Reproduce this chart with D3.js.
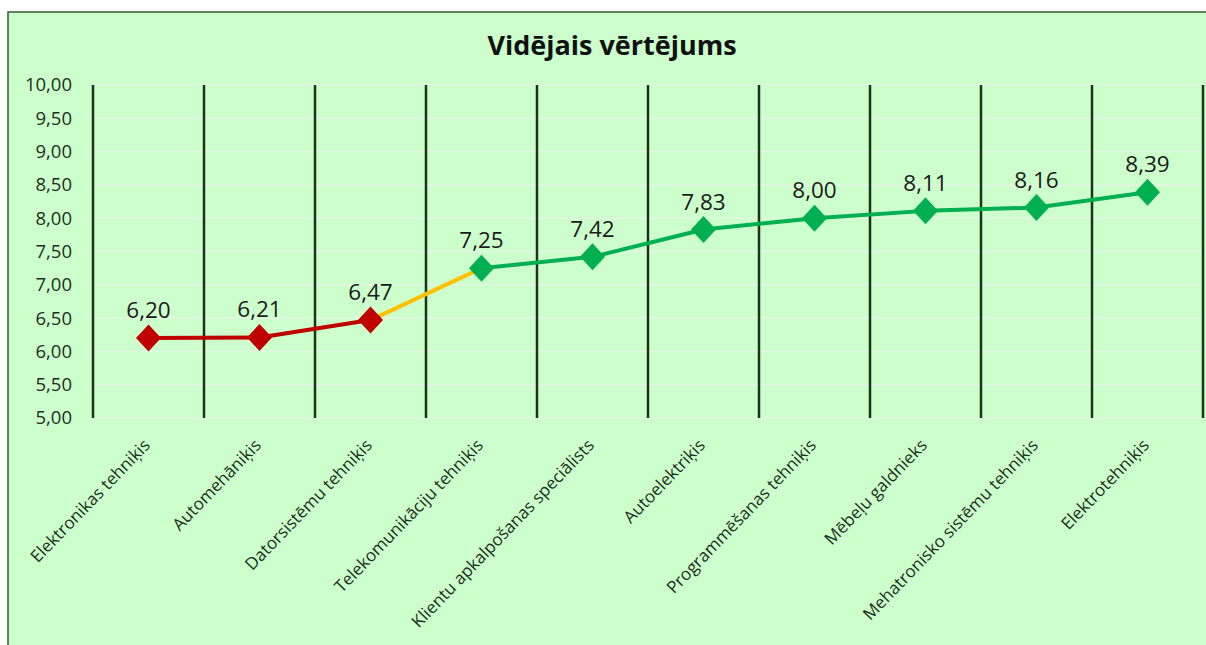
<!DOCTYPE html>
<meta charset="utf-8">
<script src="https://cdn.jsdelivr.net/npm/d3@7"></script>
<style>
body { margin: 0; background: #fff; }
text { font-family: "Open Sans", Lato, sans-serif; }
</style>
<body>
<script>

var categories = ["Elektronikas tehniķis", "Automehāniķis", "Datorsistēmu tehniķis",
  "Telekomunikāciju tehniķis", "Klientu apkalpošanas speciālists", "Autoelektriķis",
  "Programmēšanas tehniķis", "Mēbeļu galdnieks", "Mehatronisko sistēmu tehniķis", "Elektrotehniķis"];
var values = [6.20, 6.21, 6.47, 7.25, 7.42, 7.83, 8.00, 8.11, 8.16, 8.39];
var pointColors = ["#c00000", "#c00000", "#c00000", "#00b050", "#00b050",
  "#00b050", "#00b050", "#00b050", "#00b050", "#00b050"];
var segmentColors = ["#c00000", "#c00000", "#ffc000", "#00b050", "#00b050",
  "#00b050", "#00b050", "#00b050", "#00b050"];
var yTicks = [5, 5.5, 6, 6.5, 7, 7.5, 8, 8.5, 9, 9.5, 10];
var title = "Vidējais vērtējums";

var width = 1206, height = 645;
var plot = {left: 93, right: 1203, top: 85, bottom: 418};

var svg = d3.select("body").append("svg")
    .attr("width", width)
    .attr("height", height);

// chart background + border
svg.append("rect")
    .attr("x", 8).attr("y", 12)
    .attr("width", width + 20).attr("height", height)
    .attr("fill", "#ccffcc")
    .attr("stroke", "#2f5f2f")
    .attr("stroke-width", 1.5);

var x = d3.scaleBand().domain(categories).range([plot.left, plot.right]);
var y = d3.scaleLinear().domain([5, 10]).range([plot.bottom, plot.top]);
var fmt = function(v) { return d3.format(".2f")(v).replace(".", ","); };

// horizontal gridlines
svg.append("g")
  .selectAll("line")
  .data(yTicks)
  .enter().append("line")
    .attr("x1", plot.left).attr("x2", plot.right)
    .attr("y1", function(d) { return y(d); })
    .attr("y2", function(d) { return y(d); })
    .attr("stroke", "#e2f4e2")
    .attr("stroke-width", 1.5);

// vertical dividers
svg.append("g")
  .selectAll("line")
  .data(categories)
  .enter().append("line")
    .attr("x1", function(d) { return x(d); })
    .attr("x2", function(d) { return x(d); })
    .attr("y1", plot.top).attr("y2", plot.bottom)
    .attr("stroke", "#1c331c")
    .attr("stroke-width", 2.5);
svg.append("line")
    .attr("x1", plot.right).attr("x2", plot.right)
    .attr("y1", plot.top).attr("y2", plot.bottom)
    .attr("stroke", "#1c331c")
    .attr("stroke-width", 2.5);

// y axis labels
var yAxis = svg.append("g")
    .attr("transform", "translate(" + (plot.left - 21) + ",0)")
    .call(d3.axisLeft(y).tickValues(yTicks).tickFormat(fmt).tickSize(0).tickPadding(0));
yAxis.select(".domain").remove();
yAxis.selectAll("text")
    .attr("font-size", "18.5px")
    .attr("font-family", "'Open Sans', sans-serif")
    .attr("fill", "#1a301b");

// x labels rotated
var xAxis = svg.append("g")
    .attr("transform", "translate(0," + plot.bottom + ")")
    .call(d3.axisBottom(x).tickSize(0).tickPadding(0));
xAxis.select(".domain").remove();
xAxis.selectAll("text")
    .attr("font-size", "17px")
    .attr("font-family", "'Open Sans', sans-serif")
    .attr("fill", "#1a301b")
    .attr("text-anchor", "end")
    .attr("dy", "0.7em")
    .attr("transform", "translate(-6,20) rotate(-46)");

// line segments
var pts = categories.map(function(c, i) {
  return {x: x(c) + x.bandwidth() / 2, y: y(values[i]), v: values[i], color: pointColors[i]};
});
svg.append("g")
  .selectAll("line")
  .data(segmentColors)
  .enter().append("line")
    .attr("x1", function(d, i) { return pts[i].x; })
    .attr("y1", function(d, i) { return pts[i].y; })
    .attr("x2", function(d, i) { return pts[i + 1].x; })
    .attr("y2", function(d, i) { return pts[i + 1].y; })
    .attr("stroke", function(d) { return d; })
    .attr("stroke-width", 4)
    .attr("stroke-linecap", "round");

// diamond markers
var diamond = {
  draw: function(ctx, size) {
    var w = 12.5, h = 13.5;
    ctx.moveTo(0, -h);
    ctx.lineTo(w, 0);
    ctx.lineTo(0, h);
    ctx.lineTo(-w, 0);
    ctx.closePath();
  }
};
svg.append("g")
  .selectAll("path")
  .data(pts)
  .enter().append("path")
    .attr("d", d3.symbol().type(diamond))
    .attr("transform", function(d) { return "translate(" + d.x + "," + d.y + ")"; })
    .attr("fill", function(d) { return d.color; });

// data labels
svg.append("g")
  .selectAll("text")
  .data(pts)
  .enter().append("text")
    .attr("x", function(d) { return d.x; })
    .attr("y", function(d) { return d.y - 20; })
    .attr("text-anchor", "middle")
    .attr("font-size", "22.5px")
    .attr("fill", "#1a1a1a")
    .text(function(d) { return fmt(d.v); });

// title
svg.append("text")
    .attr("x", 612).attr("y", 55)
    .attr("text-anchor", "middle")
    .attr("font-size", "27px")
    .attr("font-weight", "bold")
    .attr("fill", "#111")
    .text(title);

</script>
</body>
